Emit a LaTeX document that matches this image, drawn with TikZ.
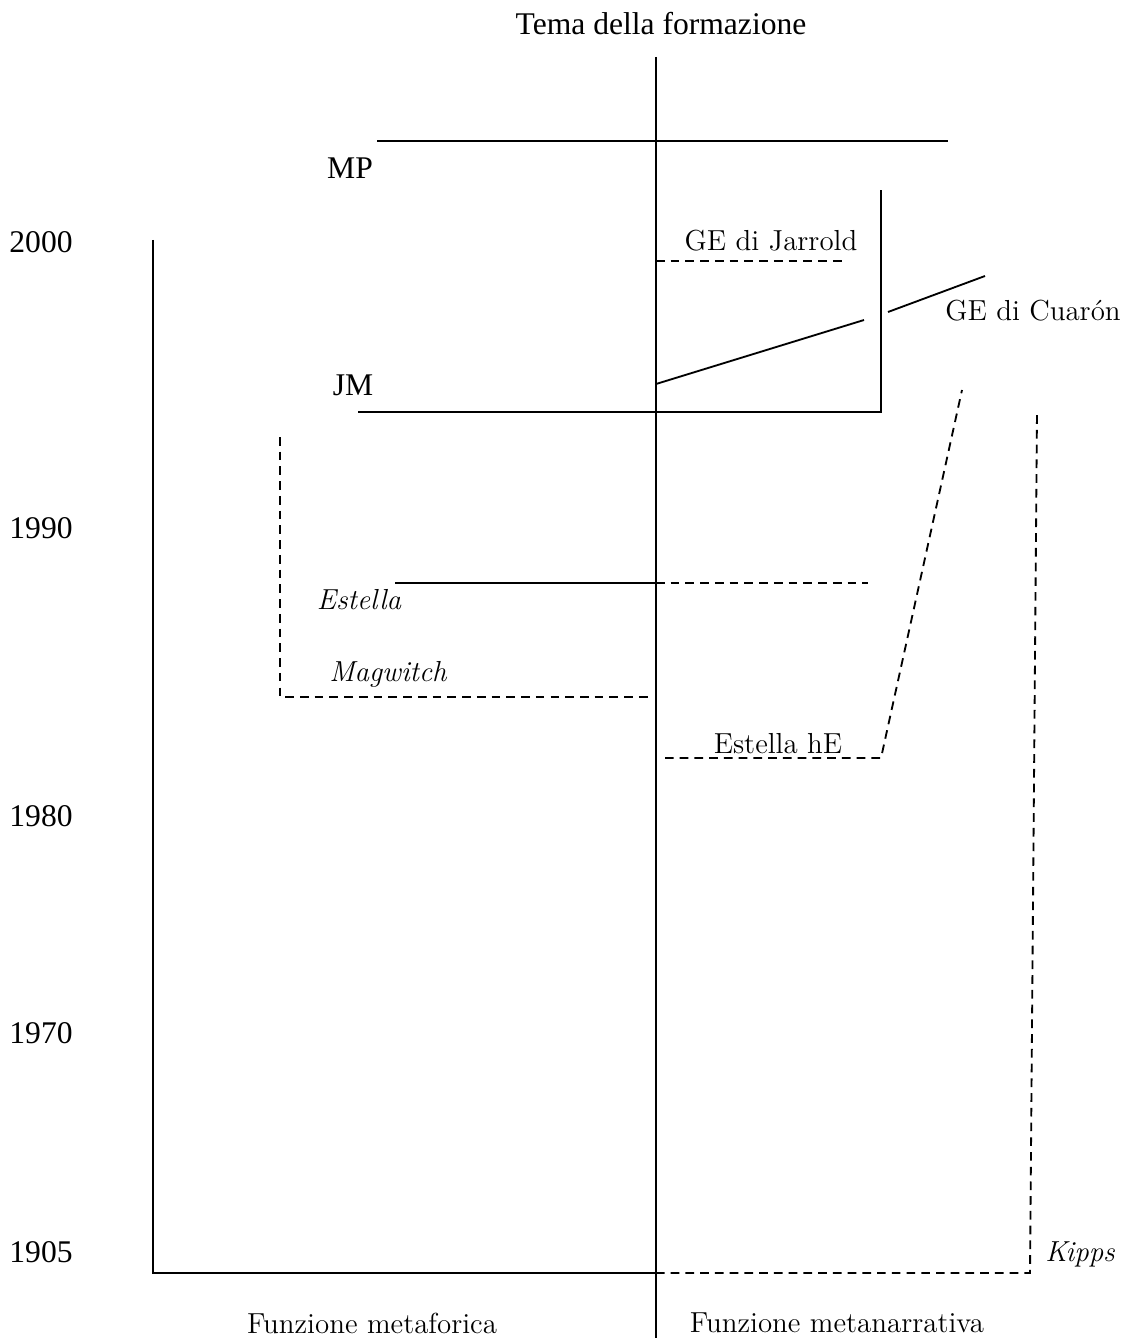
\documentclass[tikz,border=0pt]{standalone}
\usepackage{fontspec}
\newfontfamily\tms{Liberation Serif}
\usetikzlibrary{positioning}

\begin{document}
\begin{tikzpicture}[x=0.38pt,y=-0.38pt,
          solidl/.style={line width=0.7pt},
          dashl/.style={line width=0.7pt,dash pattern=on 3.3pt off 2.3pt},
          yr/.style={font=\tms\fontsize{12}{14}\selectfont,inner sep=0pt},
          lbl/.style={font=\fontsize{11}{14}\selectfont,inner sep=0pt},
          ilbl/.style={font=\itshape\fontsize{11}{14}\selectfont,inner sep=0pt}]
        \useasboundingbox (0,0) rectangle (1130,1341);
        % axes
        \draw[solidl] (656,57) -- (656,1338);
        \draw[solidl] (153,240) -- (153,1273) -- (656,1273);
        \draw[dashl]  (656,1273) -- (1030,1273) -- (1037,410);
        % MP and JM
        \draw[solidl] (377,141) -- (948,141);
        \draw[solidl] (358,412) -- (881,412) -- (881,190);
        % GE
        \draw[dashl]  (656,261) -- (847,261);
        \draw[solidl] (656,384) -- (864,320);
        \draw[solidl] (888,312) -- (985,276);
        % Estella, Magwitch
        \draw[solidl] (395,583) -- (656,583);
        \draw[dashl]  (656,583) -- (868,583);
        \draw[dashl]  (280,437) -- (280,697) -- (653,697);
        \draw[dashl]  (665,758) -- (881,758) -- (962,390);
        % texts
        \node[yr] (tema)  at (661,24)   {Tema della formazione};
        \node[yr] (mp)    at (350,168)  {MP};
        \node[yr] (jm)    at (353,385)  {JM};
        \node[yr] (y2000) at (41,242)   {2000};
        \node[yr] (y1990) at (41,528)   {1990};
        \node[yr] (y1980) at (41,816)   {1980};
        \node[yr] (y1970) at (41,1033)  {1970};
        \node[yr] (y1905) at (41,1252)  {1905};
        \node[lbl]  (jarrold) at (771,241)  {GE di Jarrold};
        \node[lbl]  (cuaron)  at (1033,311) {GE di Cuarón};
        \node[lbl]  (esthe)   at (778,744)  {Estella hE};
        \node[ilbl] (estella) at (359,600)  {Estella};
        \node[ilbl] (magw)    at (388,674)  {Magwitch};
        \node[ilbl] (kipps)   at (1080,1254) {Kipps};
        \node[lbl]  (fmeta)   at (372,1323) {Funzione metaforica};
        \node[lbl]  (fnarr)   at (837,1323) {Funzione metanarrativa};
      \end{tikzpicture}
\end{document}
